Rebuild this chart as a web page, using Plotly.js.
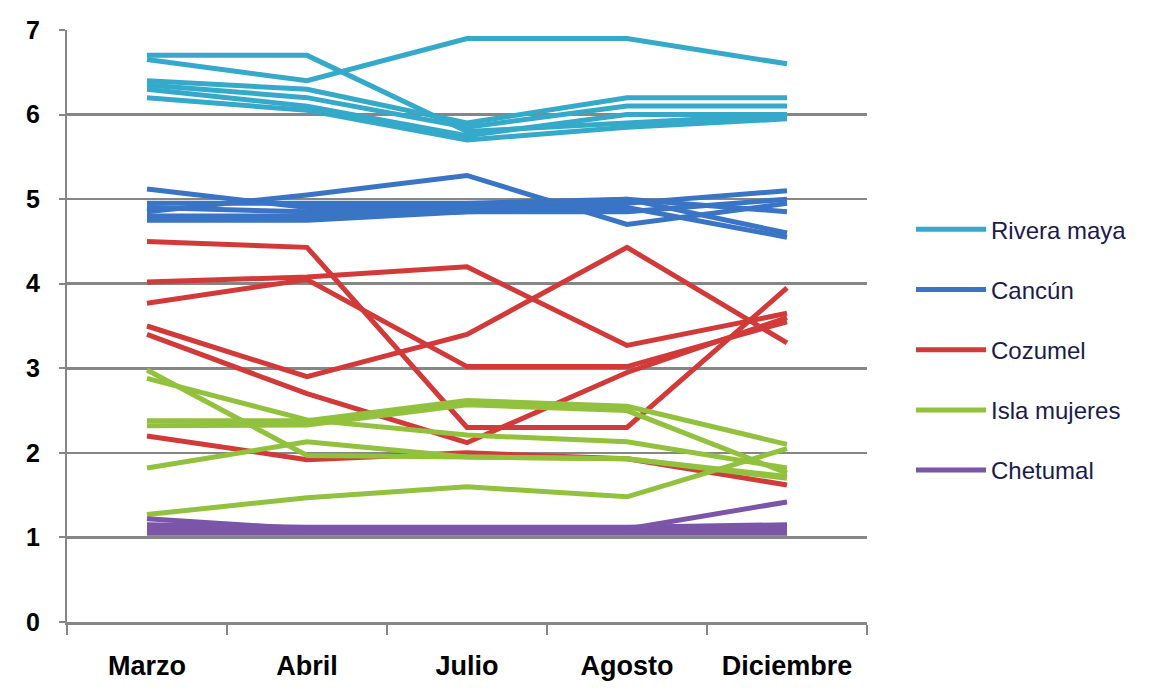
<!DOCTYPE html>
<html>
<head>
<meta charset="utf-8">
<script src="https://cdn.plot.ly/plotly-3.0.1.min.js"></script>
<style>html,body{margin:0;padding:0;background:#fff;}#chart{width:1175px;height:688px;}</style>
</head>
<body>
<div id="chart"></div>
<script>
const months = ['Marzo', 'Abril', 'Julio', 'Agosto', 'Diciembre'];
const groupNames = ['Rivera maya', 'Cancún', 'Cozumel', 'Isla mujeres', 'Chetumal'];
const groupColors = ['#35A9C9', '#3A74C4', '#D23A3A', '#92C13E', '#7B55A8'];

const riveraMaya = [
  [6.70, 6.70, 5.80, 5.90, 6.00],
  [6.65, 6.40, 6.90, 6.90, 6.60],
  [6.40, 6.30, 5.90, 6.20, 6.20],
  [6.35, 6.20, 5.85, 6.10, 6.10],
  [6.30, 6.10, 5.75, 6.00, 6.00],
  [6.20, 6.05, 5.70, 5.85, 5.95]
];
const cancun = [
  [5.12, 4.90, 4.90, 4.95, 5.10],
  [4.85, 5.05, 5.28, 4.70, 4.95],
  [4.95, 4.95, 4.95, 5.00, 4.85],
  [4.90, 4.85, 4.90, 5.00, 4.60],
  [4.80, 4.80, 4.85, 4.90, 4.55],
  [4.75, 4.75, 4.85, 4.85, 5.00]
];
const cozumel = [
  [4.50, 4.43, 2.30, 2.30, 3.95],
  [4.02, 4.08, 4.20, 3.27, 3.65],
  [3.77, 4.05, 3.02, 3.02, 3.55],
  [3.50, 2.90, 3.40, 4.43, 3.30],
  [3.40, 2.70, 2.12, 2.95, 3.60],
  [2.20, 1.92, 2.00, 1.93, 1.62]
];
const islaMujeres = [
  [2.98, 1.97, 1.95, 1.93, 1.72],
  [2.88, 2.39, 2.21, 2.13, 1.82],
  [2.38, 2.38, 2.62, 2.55, 2.10],
  [2.32, 2.33, 2.57, 2.50, 1.76],
  [1.82, 2.13, 1.95, 1.93, 1.70],
  [1.27, 1.47, 1.60, 1.48, 2.05]
];
const chetumal = [
  [1.22, 1.10, 1.10, 1.10, 1.42],
  [1.15, 1.12, 1.12, 1.12, 1.15],
  [1.10, 1.08, 1.08, 1.08, 1.10],
  [1.05, 1.05, 1.05, 1.05, 1.05]
];
const yTicks = [0, 1, 2, 3, 4, 5, 6, 7];

const groups = [riveraMaya, cancun, cozumel, islaMujeres, chetumal];
const traces = [];
groups.forEach((series, gi) => {
  series.forEach((vals, si) => {
    traces.push({
      type: 'scatter',
      mode: 'lines',
      x: months,
      y: vals,
      name: groupNames[gi],
      legendgroup: groupNames[gi],
      showlegend: si === 0,
      line: {color: groupColors[gi], width: 5},
      hoverinfo: 'skip'
    });
  });
});

const layout = {
  width: 1175,
  height: 688,
  margin: {l: 67, r: 308, t: 30, b: 66},
  paper_bgcolor: '#ffffff',
  plot_bgcolor: '#ffffff',
  showlegend: true,
  font: {family: 'Liberation Sans, Arial, sans-serif', color: '#000'},
  xaxis: {
    type: 'category',
    categoryorder: 'array',
    categoryarray: months,
    range: [-0.5, 4.5],
    showgrid: false,
    zeroline: false,
    showline: true,
    linecolor: '#868686',
    linewidth: 3,
    ticks: 'outside',
    tickson: 'boundaries',
    ticklen: 10,
    tickwidth: 2,
    tickcolor: '#868686',
    tickfont: {size: 27, family: 'Liberation Sans, Arial, sans-serif', color: '#000', weight: 'bold'},
    ticklabelstandoff: 18
  },
  yaxis: {
    range: [0, 7],
    tickvals: yTicks,
    ticktext: yTicks.map(String),
    showgrid: true,
    gridcolor: '#868686',
    gridwidth: 2.5,
    zeroline: false,
    showline: true,
    linecolor: '#868686',
    linewidth: 2,
    ticks: 'outside',
    ticklen: 6,
    tickwidth: 2,
    tickcolor: '#868686',
    tickfont: {size: 25, family: 'Liberation Sans, Arial, sans-serif', color: '#000', weight: 'bold'},
    ticklabelstandoff: 14
  },
  legend: {
    x: 1.055,
    xanchor: 'left',
    y: 0.46,
    yanchor: 'middle',
    font: {size: 24, family: 'Liberation Sans, Arial, sans-serif', color: '#1B1B4D'},
    tracegroupgap: 26,
    itemwidth: 70,
    bgcolor: 'rgba(0,0,0,0)'
  }
};

Plotly.newPlot('chart', traces, layout, {displayModeBar: false, staticPlot: true});
</script>
</body>
</html>
